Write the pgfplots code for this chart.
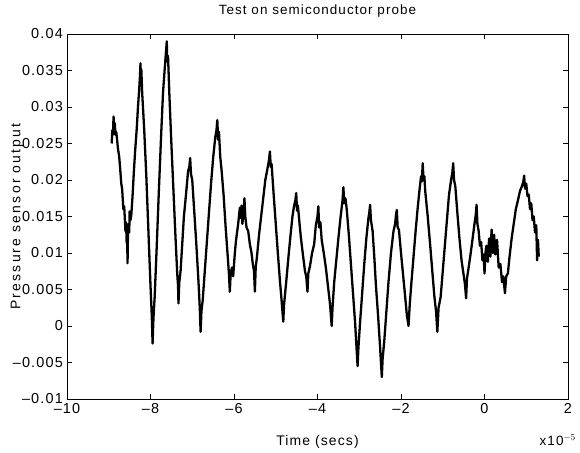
\documentclass[border=0pt]{standalone}
\usepackage{fontspec}
\setmainfont{Liberation Sans}[LetterSpace=8]
\newfontfamily\ylabfont{Liberation Sans}[LetterSpace=16]
\usepackage{pgfplots}
\pgfplotsset{compat=1.18}

\begin{document}
\fontsize{12}{14}\selectfont
\begin{tikzpicture}
\begin{axis}[
    scale only axis,
    width=501bp, height=365bp,
    xmin=-10, xmax=2, ymin=-0.01, ymax=0.04,
    scaled x ticks=false, scaled y ticks=false,
    xtick={-10,-8,-6,-4,-2,0,2},
    xticklabels={–10,–8,–6,–4,–2,0,2},
    ytick={-0.01,-0.005,0,0.005,0.01,0.015,0.02,0.025,0.03,0.035,0.04},
    yticklabels={–0.01,–0.005,0,0.005,0.01,0.015,0.02,0.025,0.03,0.035,0.04},
    tick label style={font=\fontsize{14.5}{16}\selectfont},
    tick align=inside,
    major tick length=5bp,
    tick style={black, line width=0.8pt},
    axis line style={line width=0.9pt},
    title={Test on semiconductor probe},
    title style={at={(0.5,1)}, anchor=base, yshift=14bp, font=\fontsize{13.5}{15}\selectfont},
    xlabel={Time (secs)},
    xlabel style={at={(0.5,0)}, anchor=base, yshift=-47bp, font=\fontsize{14}{16}\selectfont},
    clip=false,
]
% trace of the probe signal
\addplot[black, line width=2.3pt, line join=round] coordinates {
(-8.93,0.0250) (-8.915,0.0268) (-8.90,0.0262) (-8.885,0.0287) (-8.87,0.0272) (-8.855,0.0278)
(-8.84,0.0262) (-8.82,0.0266) (-8.80,0.0255) (-8.78,0.0243) (-8.75,0.0232) (-8.73,0.0218)
(-8.70,0.0195) (-8.68,0.0188) (-8.65,0.0160) (-8.63,0.0164) (-8.60,0.0130) (-8.585,0.0142)
(-8.57,0.0113) (-8.56,0.0128) (-8.55,0.0086) (-8.54,0.0125) (-8.52,0.0140) (-8.51,0.0128)
(-8.50,0.0157) (-8.48,0.0145) (-8.46,0.0152) (-8.43,0.0178) (-8.40,0.0210) (-8.37,0.0238)
(-8.33,0.0270) (-8.30,0.0300) (-8.27,0.0325) (-8.25,0.0345) (-8.24,0.0360) (-8.23,0.0338)
(-8.22,0.0352) (-8.20,0.0320) (-8.15,0.0268) (-8.10,0.0205) (-8.05,0.0130) (-8.00,0.0055)
(-7.97,0.0015) (-7.95,-0.0024) (-7.93,0.0010) (-7.90,0.0040) (-7.85,0.0110) (-7.80,0.0185)
(-7.75,0.0255) (-7.70,0.0320) (-7.66,0.0352) (-7.63,0.0375) (-7.61,0.0390) (-7.60,0.0362)
(-7.58,0.0370) (-7.55,0.0320) (-7.50,0.0250) (-7.45,0.0185) (-7.40,0.0120) (-7.36,0.0072)
(-7.34,0.0055) (-7.33,0.0031) (-7.31,0.0060) (-7.28,0.0075) (-7.24,0.0112) (-7.20,0.0150)
(-7.15,0.0180) (-7.10,0.0212) (-7.07,0.0218) (-7.05,0.0230) (-7.03,0.0208) (-7.00,0.0200)
(-6.95,0.0155) (-6.90,0.0110) (-6.85,0.0060) (-6.82,0.0025) (-6.80,-0.0008) (-6.78,0.0020)
(-6.75,0.0035) (-6.70,0.0075) (-6.65,0.0115) (-6.60,0.0155) (-6.55,0.0195) (-6.50,0.0230)
(-6.45,0.0258) (-6.42,0.0268) (-6.40,0.0282) (-6.38,0.0255) (-6.36,0.0266) (-6.33,0.0232)
(-6.30,0.0215) (-6.25,0.0180) (-6.20,0.0135) (-6.15,0.0095) (-6.12,0.0070) (-6.10,0.0047)
(-6.08,0.0072) (-6.05,0.0080) (-6.02,0.0068) (-5.98,0.0100) (-5.95,0.0118) (-5.90,0.0140)
(-5.86,0.0162) (-5.84,0.0148) (-5.82,0.0165) (-5.80,0.0140) (-5.77,0.0155) (-5.75,0.0175)
(-5.73,0.0150) (-5.70,0.0135) (-5.66,0.0130) (-5.62,0.0112) (-5.58,0.0100) (-5.55,0.0085)
(-5.52,0.0075) (-5.50,0.0047) (-5.48,0.0080) (-5.45,0.0095) (-5.40,0.0125) (-5.35,0.0150)
(-5.30,0.0175) (-5.25,0.0200) (-5.20,0.0215) (-5.16,0.0228) (-5.14,0.0239) (-5.12,0.0218)
(-5.10,0.0222) (-5.05,0.0180) (-5.00,0.0140) (-4.95,0.0100) (-4.90,0.0062) (-4.86,0.0035)
(-4.84,0.0020) (-4.82,0.0006) (-4.80,0.0030) (-4.75,0.0060) (-4.70,0.0092) (-4.65,0.0122)
(-4.60,0.0150) (-4.56,0.0165) (-4.53,0.0172) (-4.51,0.0182) (-4.49,0.0158) (-4.47,0.0165)
(-4.43,0.0140) (-4.40,0.0122) (-4.35,0.0098) (-4.30,0.0075) (-4.27,0.0068) (-4.24,0.0047)
(-4.22,0.0072) (-4.18,0.0082) (-4.13,0.0100) (-4.08,0.0112) (-4.04,0.0138) (-4.00,0.0150)
(-3.98,0.0164) (-3.96,0.0135) (-3.93,0.0142) (-3.90,0.0118) (-3.85,0.0100) (-3.80,0.0080)
(-3.75,0.0055) (-3.70,0.0030) (-3.68,0.0015) (-3.66,0.0000) (-3.64,0.0025) (-3.60,0.0060)
(-3.55,0.0090) (-3.50,0.0120) (-3.45,0.0148) (-3.40,0.0172) (-3.38,0.0190) (-3.36,0.0168)
(-3.33,0.0175) (-3.30,0.0160) (-3.25,0.0125) (-3.20,0.0085) (-3.15,0.0045) (-3.10,0.0005)
(-3.07,-0.0025) (-3.04,-0.0055) (-3.02,-0.0030) (-2.98,0.0005) (-2.93,0.0045) (-2.88,0.0085)
(-2.83,0.0120) (-2.78,0.0148) (-2.76,0.0155) (-2.74,0.0166) (-2.72,0.0145) (-2.68,0.0130)
(-2.64,0.0095) (-2.60,0.0055) (-2.55,0.0015) (-2.50,-0.0030) (-2.48,-0.0050) (-2.46,-0.0070)
(-2.44,-0.0045) (-2.40,-0.0020) (-2.35,0.0020) (-2.30,0.0060) (-2.24,0.0100) (-2.18,0.0130)
(-2.14,0.0140) (-2.12,0.0152) (-2.10,0.0159) (-2.08,0.0135) (-2.05,0.0132) (-2.00,0.0100)
(-1.95,0.0070) (-1.90,0.0040) (-1.86,0.0015) (-1.82,0.0000) (-1.79,0.0030) (-1.75,0.0060)
(-1.70,0.0095) (-1.65,0.0130) (-1.60,0.0162) (-1.55,0.0190) (-1.52,0.0205) (-1.50,0.0198)
(-1.48,0.0223) (-1.46,0.0200) (-1.44,0.0205) (-1.42,0.0185) (-1.36,0.0150) (-1.30,0.0110)
(-1.25,0.0075) (-1.20,0.0040) (-1.16,0.0020) (-1.13,-0.0008) (-1.10,0.0025) (-1.05,0.0040)
(-1.00,0.0075) (-0.95,0.0110) (-0.90,0.0145) (-0.85,0.0180) (-0.80,0.0200) (-0.77,0.0210)
(-0.75,0.0223) (-0.73,0.0200) (-0.70,0.0192) (-0.65,0.0155) (-0.60,0.0120) (-0.55,0.0090)
(-0.50,0.0070) (-0.47,0.0058) (-0.44,0.0038) (-0.42,0.0065) (-0.38,0.0080) (-0.33,0.0100)
(-0.28,0.0122) (-0.24,0.0140) (-0.21,0.0152) (-0.19,0.0166) (-0.17,0.0140) (-0.14,0.0130)
(-0.11,0.0110) (-0.08,0.0115) (-0.05,0.0090) (-0.02,0.0098) (0.00,0.0072) (0.03,0.0105)
(0.05,0.0110) (0.08,0.0088) (0.11,0.0120) (0.14,0.0095) (0.17,0.0132) (0.20,0.0100)
(0.23,0.0125) (0.26,0.0098) (0.30,0.0118) (0.34,0.0080) (0.38,0.0085) (0.42,0.0060)
(0.45,0.0068) (0.49,0.0045) (0.52,0.0068) (0.56,0.0072) (0.60,0.0095) (0.65,0.0120)
(0.70,0.0140) (0.75,0.0160) (0.80,0.0172) (0.85,0.0185) (0.90,0.0192) (0.93,0.0198)
(0.95,0.0206) (0.97,0.0188) (1.00,0.0195) (1.03,0.0178) (1.06,0.0180) (1.09,0.0160)
(1.12,0.0168) (1.15,0.0145) (1.18,0.0150) (1.21,0.0128) (1.24,0.0138) (1.26,0.0090)
(1.28,0.0118) (1.30,0.0095)
};
\node[anchor=base east, inner sep=0pt, font=\fontsize{13.5}{15}\selectfont] at (rel axis cs:1,0) [xshift=8bp, yshift=-47bp] {x10$^{-5}$};
\end{axis}
\node[rotate=90, anchor=center, font=\ylabfont\fontsize{14}{16}\selectfont] at ([xshift=-50bp]current axis.west) {Pressure sensor output};
\pgfresetboundingbox
\path[use as bounding box] ([shift={(-67bp,-54bp)}]current axis.south west) rectangle ([shift={(12bp,34bp)}]current axis.north east);
\end{tikzpicture}
\end{document}
